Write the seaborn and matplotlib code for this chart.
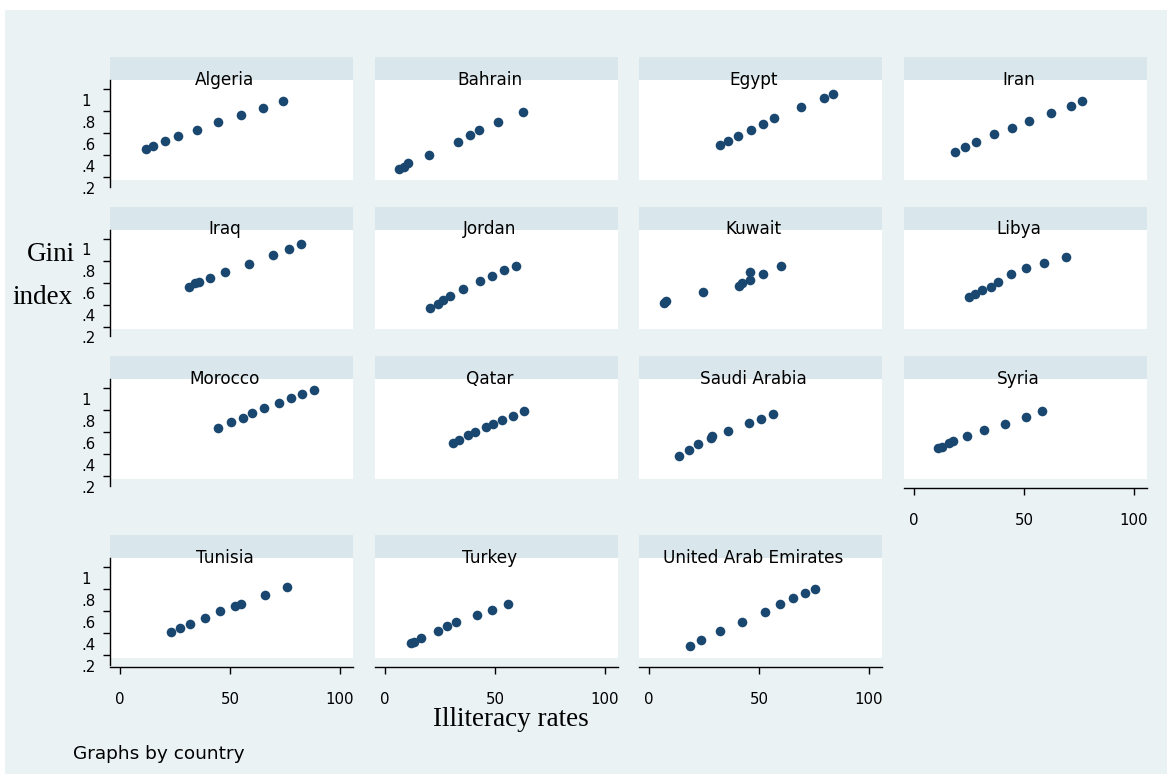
import numpy as np
import pandas as pd
import matplotlib
matplotlib.use("Agg")
import matplotlib.pyplot as plt
import matplotlib.transforms as mtransforms
from matplotlib.patches import Rectangle
import seaborn as sns

# ---------------- data ----------------
countries = ["Algeria", "Bahrain", "Egypt", "Iran", "Iraq", "Jordan", "Kuwait",
             "Libya", "Morocco", "Qatar", "Saudi Arabia", "Syria", "Tunisia",
             "Turkey", "United Arab Emirates"]

algeria_x = [11.8, 15.2, 20.3, 26.5, 34.8, 44.4, 55.0, 64.8, 74.2]
algeria_y = [0.457, 0.487, 0.530, 0.575, 0.633, 0.700, 0.770, 0.830, 0.896]
bahrain_x = [6.5, 8.5, 10.3, 19.9, 33.0, 38.8, 42.6, 51.5, 62.7]
bahrain_y = [0.273, 0.296, 0.327, 0.405, 0.520, 0.585, 0.633, 0.700, 0.790]
egypt_x = [32.3, 36.1, 40.5, 46.4, 51.7, 56.8, 69.1, 79.5, 83.6]
egypt_y = [0.490, 0.533, 0.578, 0.633, 0.685, 0.736, 0.836, 0.918, 0.955]
iran_x = [18.8, 23.3, 28.0, 36.5, 44.5, 52.4, 62.1, 71.2, 76.4]
iran_y = [0.430, 0.475, 0.524, 0.594, 0.650, 0.709, 0.782, 0.850, 0.890]
iraq_x = [31.2, 34.2, 36.1, 40.9, 47.9, 58.5, 69.4, 76.7, 82.4]
iraq_y = [0.564, 0.594, 0.609, 0.648, 0.694, 0.773, 0.850, 0.909, 0.950]
jordan_x = [20.6, 23.9, 26.4, 29.7, 35.6, 43.3, 48.8, 53.9, 59.5]
jordan_y = [0.373, 0.410, 0.440, 0.484, 0.542, 0.612, 0.663, 0.715, 0.757]
kuwait_x = [6.7, 7.7, 24.5, 40.8, 42.3, 45.9, 45.9, 52.0, 59.9]
kuwait_y = [0.415, 0.433, 0.518, 0.575, 0.594, 0.627, 0.700, 0.682, 0.757]
libya_x = [24.9, 27.7, 30.9, 34.9, 38.2, 44.1, 51.0, 59.2, 68.9]
libya_y = [0.475, 0.500, 0.533, 0.560, 0.609, 0.678, 0.730, 0.782, 0.839]
morocco_x = [44.4, 50.3, 55.8, 59.9, 65.5, 72.1, 77.7, 82.9, 88.2]
morocco_y = [0.642, 0.690, 0.730, 0.773, 0.818, 0.867, 0.912, 0.948, 0.982]
qatar_x = [31.0, 33.8, 37.9, 41.0, 45.9, 49.2, 53.2, 58.3, 63.0]
qatar_y = [0.503, 0.533, 0.573, 0.605, 0.648, 0.673, 0.709, 0.751, 0.791]
saudi_x = [13.8, 18.0, 22.4, 28.2, 28.6, 36.0, 45.5, 50.9, 56.4]
saudi_y = [0.387, 0.442, 0.494, 0.546, 0.564, 0.615, 0.684, 0.724, 0.766]
syria_x = [11.0, 12.7, 16.1, 17.6, 24.3, 32.0, 41.2, 51.0, 58.2]
syria_y = [0.455, 0.469, 0.500, 0.518, 0.564, 0.618, 0.678, 0.742, 0.791]
tunisia_x = [23.2, 27.3, 31.8, 38.6, 45.5, 52.3, 55.0, 65.9, 75.9]
tunisia_y = [0.414, 0.450, 0.486, 0.541, 0.605, 0.650, 0.668, 0.750, 0.823]
turkey_x = [11.8, 13.2, 16.4, 24.1, 28.2, 32.3, 41.8, 48.6, 55.9]
turkey_y = [0.314, 0.320, 0.360, 0.423, 0.468, 0.505, 0.568, 0.614, 0.668]
uae_x = [18.6, 23.6, 32.3, 42.3, 52.7, 59.5, 65.5, 70.9, 75.5]
uae_y = [0.286, 0.340, 0.423, 0.505, 0.595, 0.668, 0.723, 0.768, 0.805]

x_ticks = [0, 50, 100]
y_ticks = [0.2, 0.4, 0.6, 0.8, 1.0]
y_tick_labels = [".2", ".4", ".6", ".8", "1"]
y_title_lines = ["Gini", "index"]
x_title = "Illiteracy rates"
note = "Graphs by country"

x_series = [algeria_x, bahrain_x, egypt_x, iran_x, iraq_x, jordan_x, kuwait_x,
            libya_x, morocco_x, qatar_x, saudi_x, syria_x, tunisia_x, turkey_x, uae_x]
y_series = [algeria_y, bahrain_y, egypt_y, iran_y, iraq_y, jordan_y, kuwait_y,
            libya_y, morocco_y, qatar_y, saudi_y, syria_y, tunisia_y, turkey_y, uae_y]

df = pd.concat(
    [pd.DataFrame({"country": c, "illiteracy": xs, "gini": ys})
     for c, xs, ys in zip(countries, x_series, y_series)],
    ignore_index=True)

# ---------------- styling ----------------
W, H = 1172, 774
BG = "#EAF2F3"
STRIP = "#D9E6EB"
NAVY = "#1A476F"

sns.set_theme(style="white")
plt.rcParams["font.family"] = ["DejaVu Sans"]
plt.rcParams["text.color"] = "black"
plt.rcParams["xtick.color"] = "black"
plt.rcParams["ytick.color"] = "black"
plt.rcParams["axes.labelcolor"] = "black"

g = sns.FacetGrid(df, col="country", col_order=countries, col_wrap=4,
                  sharex=True, sharey=True, despine=False, height=1.2, aspect=2.4)
g.map_dataframe(sns.scatterplot, x="illiteracy", y="gini", color=NAVY,
                s=48, linewidth=0)
g.set_titles("")
g.set_axis_labels("", "")

fig = g.figure
fig.set_size_inches(W / 100, H / 100)
fig.set_dpi(100)
fig.patch.set_facecolor("white")
fig.add_artist(Rectangle((5 / W, 0), (1167 - 5) / W, (H - 10) / H,
                         transform=fig.transFigure, facecolor=BG,
                         edgecolor="none", zorder=-10))

col_lefts = [110, 375, 639, 904]
row_tops = [80, 229.5, 379, 558]
pw, ph = 243, 99.5
strip_h = 23
ylo, yhi = 0.18, 1.0845
xlo, xhi = -4.5, 105.9

label_offset = mtransforms.ScaledTranslation(0, -12 / 100, fig.dpi_scale_trans)
bottom_idx = {11, 12, 13, 14}

for i, (name, ax) in enumerate(zip(countries, g.axes.flat)):
    r, c = divmod(i, 4)
    left, top = col_lefts[c], row_tops[r]
    ax.set_position([left / W, 1 - (top + ph) / H, pw / W, ph / H])
    ax.set_xlim(xlo, xhi)
    ax.set_ylim(ylo, yhi)
    ax.set_facecolor("white")
    ax.set_xlabel("")
    ax.set_ylabel("")
    ax.set_title("")
    for sp in ax.spines.values():
        sp.set_visible(False)

    # strip
    ax.add_patch(Rectangle((0, 1), 1, strip_h / ph, transform=ax.transAxes,
                           facecolor=STRIP, edgecolor="none", clip_on=False,
                           zorder=0.5))
    ax.text(0.5 - 7 / pw, 1.0, name, transform=ax.transAxes, ha="center",
            va="center", fontsize=12.2, color="black", zorder=5, clip_on=False)

    ax.set_yticks(y_ticks)
    ax.set_xticks(x_ticks)
    if c == 0:
        sp = ax.spines["left"]
        sp.set_visible(True)
        sp.set_color("black")
        sp.set_linewidth(1.0)
        sp.set_bounds(0.112, yhi)
        ax.tick_params(axis="y", left=True, length=5, width=1.0,
                       direction="out", color="black", labelleft=False)
        for v, lab in zip(y_ticks, y_tick_labels):
            ax.text(-29 / pw, v, lab,
                    transform=ax.get_yaxis_transform() + label_offset,
                    ha="left", va="center", fontsize=10.8, color="black",
                    clip_on=False)
    else:
        ax.tick_params(axis="y", left=False, labelleft=False)

    if i in bottom_idx:
        sp = ax.spines["bottom"]
        sp.set_visible(True)
        sp.set_color("black")
        sp.set_linewidth(1.0)
        sp.set_position(("outward", 6.5))
        ax.tick_params(axis="x", bottom=True, length=5, width=1.0,
                       direction="out", color="black", pad=13,
                       labelbottom=True, labelsize=10.8, labelcolor="black")
        for lbl in ax.get_xticklabels():
            lbl.set_visible(True)
    else:
        ax.tick_params(axis="x", bottom=False, labelbottom=False)

# titles
serif = ["Liberation Serif", "DejaVu Serif"]
fig.text(75 / W, 1 - 255 / H, y_title_lines[0], family=serif, fontsize=19.5,
         ha="right", va="center", color="black")
fig.text(73 / W, 1 - 297 / H, y_title_lines[1], family=serif, fontsize=19.5,
         ha="right", va="center", color="black")
fig.text(511 / W, 1 - 720 / H, x_title, family=serif, fontsize=19.5,
         ha="center", va="center", color="black")
fig.text(73 / W, 1 - 754 / H, note, fontsize=13.3, ha="left", va="center",
         color="black")

fig.savefig("out.png", dpi=100, facecolor=fig.get_facecolor())
